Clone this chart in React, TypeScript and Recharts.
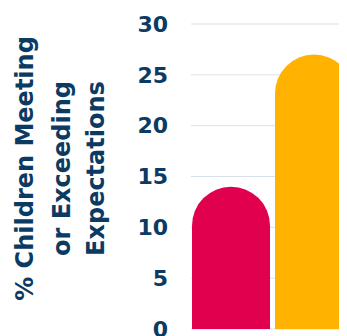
import React from 'react';
import { BarChart, Bar, XAxis, YAxis, CartesianGrid } from 'recharts';

const categories = ['Expectations'];
const seriesA = [14];
const seriesB = [27];
const yTicks = [0, 5, 10, 15, 20, 25, 30];
const axisTitle = ['% Children Meeting', 'or Exceeding', 'Expectations'];

const data = categories.map((name, i) => ({ name, a: seriesA[i], b: seriesB[i] }));

const navy = '#0b3a63';
const font = '"DejaVu Sans", sans-serif';

const AxisTitle = (props: any) => {
  const { viewBox } = props;
  const cy = viewBox.y + viewBox.height / 2 - 8;
  const xs = [17, 54, 88];
  return (
    <g>
      {axisTitle.map((line, i) => (
        <text
          key={line}
          x={xs[i]}
          y={cy}
          transform={`rotate(-90, ${xs[i]}, ${cy})`}
          textAnchor="middle"
          dominantBaseline="central"
          fill={navy}
          fontFamily={font}
          fontWeight={700}
          fontSize={24}
        >
          {line}
        </text>
      ))}
    </g>
  );
};

export default function App() {
  return (
    <div style={{ width: 339, height: 328, overflow: 'hidden' }}>
      <BarChart
        width={360}
        height={345}
        data={data}
        margin={{ top: 16, right: 15, left: 0, bottom: 24 }}
        barCategoryGap={0}
        barGap={5}
      >
        <CartesianGrid vertical={false} stroke="#d9e1e8" />
        <XAxis dataKey="name" hide />
        <YAxis
          width={183}
          domain={[0, 30]}
          ticks={yTicks}
          axisLine={false}
          tickLine={false}
          tickSize={0}
          tickMargin={23}
          tick={{ fill: navy, fontSize: 22, fontWeight: 700, fontFamily: font }}
          label={<AxisTitle />}
        />
        <Bar dataKey="a" fill="#e0004d" barSize={78} radius={[39, 39, 0, 0]} isAnimationActive={false} />
        <Bar dataKey="b" fill="#ffb300" barSize={78} radius={[39, 39, 0, 0]} isAnimationActive={false} />
      </BarChart>
    </div>
  );
}
